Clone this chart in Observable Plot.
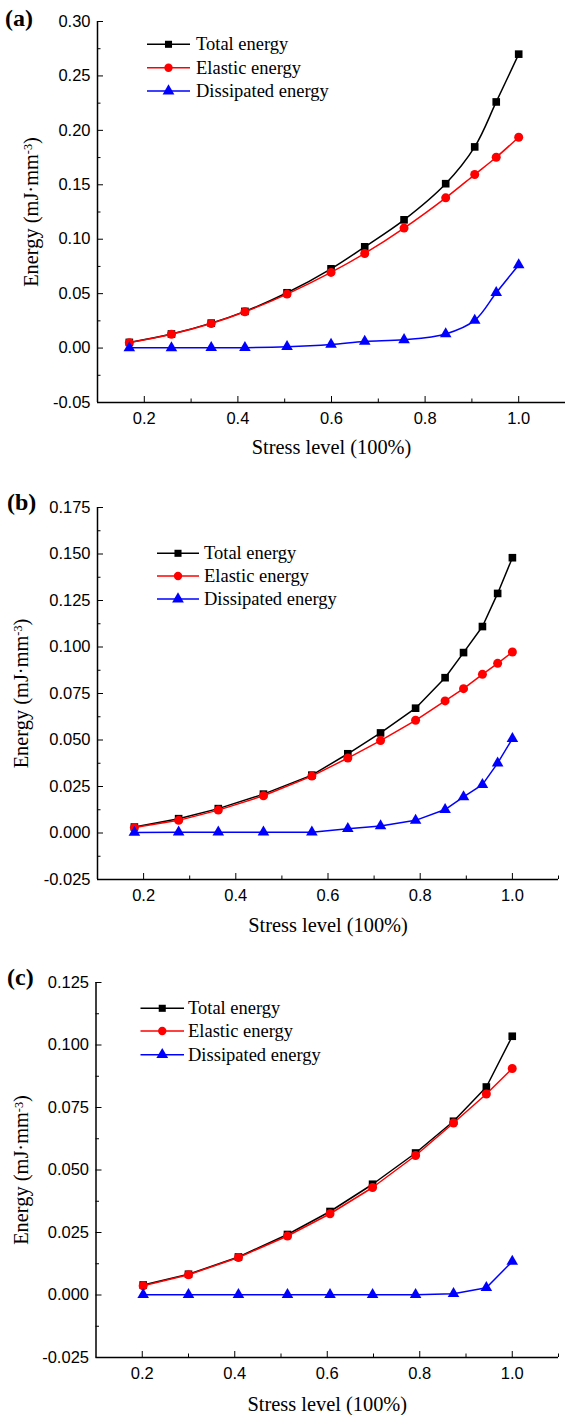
<!DOCTYPE html>
<html>
<head>
<meta charset="utf-8">
<script src="https://cdn.jsdelivr.net/npm/d3@7"></script>
<script src="https://cdn.jsdelivr.net/npm/@observablehq/plot@0.6"></script>
<style>
  body { margin: 0; background: #fff; width: 565px; }
  #chart svg { display: block; }
</style>
</head>
<body>
<div id="chart"></div>
<script>
// ---- Data: stress level (fraction of peak) and energy densities (mJ·mm⁻³) ----
const seriesNames = ["Total energy", "Elastic energy", "Dissipated energy"];

// (a)
const stressA     = [0.168, 0.258, 0.343, 0.415, 0.505, 0.599, 0.671, 0.755, 0.844, 0.906, 0.952, 1.000];
const totalA      = [0.0052, 0.0129, 0.0229, 0.0337, 0.0508, 0.0728, 0.0930, 0.1178, 0.1510, 0.1848, 0.2261, 0.2700];
const elasticA    = [0.0050, 0.0127, 0.0225, 0.0333, 0.0496, 0.0695, 0.0869, 0.1102, 0.1380, 0.1594, 0.1753, 0.1937];
const dissipatedA = [0.0002, 0.0002, 0.0004, 0.0004, 0.0012, 0.0033, 0.0061, 0.0076, 0.0130, 0.0254, 0.0508, 0.0763];

// (b)
const stressB     = [0.180, 0.276, 0.362, 0.460, 0.565, 0.643, 0.714, 0.790, 0.854, 0.894, 0.935, 0.968, 1.000];
const totalB      = [0.0032, 0.0077, 0.0131, 0.0209, 0.0311, 0.0426, 0.0538, 0.0671, 0.0835, 0.0970, 0.1110, 0.1288, 0.1480];
const elasticB    = [0.0029, 0.0068, 0.0123, 0.0200, 0.0306, 0.0403, 0.0497, 0.0606, 0.0710, 0.0776, 0.0853, 0.0912, 0.0973];
const dissipatedB = [0.0003, 0.0004, 0.0004, 0.0004, 0.0004, 0.0023, 0.0038, 0.0068, 0.0126, 0.0194, 0.0260, 0.0376, 0.0507];

// (c)
const stressC     = [0.202, 0.300, 0.408, 0.514, 0.606, 0.698, 0.791, 0.873, 0.944, 1.000];
const totalC      = [0.0040, 0.0083, 0.0152, 0.0242, 0.0334, 0.0443, 0.0568, 0.0695, 0.0832, 0.1035];
const elasticC    = [0.0037, 0.0081, 0.0150, 0.0236, 0.0325, 0.0430, 0.0558, 0.0688, 0.0804, 0.0906];
const dissipatedC = [0.0001, 0.0001, 0.0001, 0.0001, 0.0001, 0.0001, 0.0001, 0.0005, 0.0029, 0.0134];

// Axis domains and ticks
const xDomain = [0.1, 1.1];
const xMajor  = [0.2, 0.4, 0.6, 0.8, 1.0];
const xMinor  = [0.3, 0.5, 0.7, 0.9, 1.1];

const yDomainA = [-0.05, 0.30];
const yMajorA  = [-0.05, 0.00, 0.05, 0.10, 0.15, 0.20, 0.25, 0.30];
const yMinorA  = [-0.025, 0.025, 0.075, 0.125, 0.175, 0.225, 0.275];

const yDomainB = [-0.025, 0.175];
const yMajorB  = [-0.025, 0.000, 0.025, 0.050, 0.075, 0.100, 0.125, 0.150, 0.175];
const yMinorB  = [-0.0125, 0.0125, 0.0375, 0.0625, 0.0875, 0.1125, 0.1375, 0.1625];

const yDomainC = [-0.025, 0.125];
const yMajorC  = [-0.025, 0.000, 0.025, 0.050, 0.075, 0.100, 0.125];
const yMinorC  = [-0.0125, 0.0125, 0.0375, 0.0625, 0.0875, 0.1125];

const xTitle = "Stress level (100%)";
const yTitle = "Energy (mJ·mm-3)";

// ---- Styling ----
const SANS  = "'Liberation Sans', Arial, Helvetica, sans-serif";
const SERIF = "'Liberation Serif', 'Times New Roman', Times, serif";
const seriesStyle = [
  {color: "#000000", symbol: "square",   r: 4.3, legendSize: 50},
  {color: "#ff0000", symbol: "circle",   r: 4.5, legendSize: 55},
  {color: "#0000ff", symbol: "triangle", r: 4.3, legendSize: 60}
];
const d3Symbols = {square: d3.symbolSquare, circle: d3.symbolCircle, triangle: d3.symbolTriangle};

function energyPanel(cfg) {
  const rows = cfg.values.map((vals, k) =>
    vals.map((v, i) => ({stress: cfg.stress[i], energy: v, series: seriesNames[k]})));

  const marks = [
    // axis lines
    Plot.ruleX([xDomain[0]], {stroke: "#000", strokeWidth: 1.5}),
    Plot.ruleY([cfg.yDomain[0]], {stroke: "#000", strokeWidth: 1.5}),
    // inward ticks, labelled majors and unlabelled minors
    Plot.axisX(xMajor, {tickSize: -6, tickPadding: 15.6, tickFormat: d => d.toFixed(1),
      fontSize: 16.5, fontFamily: SANS, label: null}),
    Plot.axisX(xMinor, {tickSize: -3.5, fill: "none", label: null}),
    Plot.axisY(cfg.yMajor, {tickSize: -6, tickPadding: 13, tickFormat: cfg.yFormat,
      fontSize: 16.5, fontFamily: SANS, label: null}),
    Plot.axisY(cfg.yMinor, {tickSize: -3.5, fill: "none", label: null}),
    // axis titles
    Plot.text([xTitle], {frameAnchor: "bottom", dy: cfg.xTitleDy, lineAnchor: "bottom",
      fontSize: 20.4, fontFamily: SERIF, fill: "#000"}),
    Plot.text([yTitle], {frameAnchor: "left", rotate: -90, dx: cfg.yTitleDx, lineAnchor: "bottom",
      textAnchor: "middle", fontSize: 20.4, fontFamily: SERIF, fill: "#000"})
  ];

  rows.forEach((data, k) => {
    const s = seriesStyle[k];
    marks.push(Plot.line(data, {x: "stress", y: "energy", stroke: s.color, strokeWidth: 1.5, curve: cfg.curve}));
    marks.push(Plot.dot(data, {x: "stress", y: "energy", symbol: s.symbol, r: s.r, fill: s.color, stroke: "none"}));
  });

  const svg = Plot.plot({
    width: 565,
    height: cfg.height,
    marginTop: cfg.margin.top,
    marginRight: cfg.margin.right,
    marginBottom: cfg.margin.bottom,
    marginLeft: cfg.margin.left,
    x: {domain: xDomain},
    y: {domain: cfg.yDomain},
    style: {background: "#fff", color: "#000", overflow: "visible"},
    marks
  });

  const root = d3.select(svg);

  // superscript exponent in the y title
  root.selectAll("text").filter(function () { return this.textContent === yTitle; })
    .each(function () {
      const t = d3.select(this);
      t.text(null);
      t.append("tspan").text("Energy (mJ·mm");
      t.append("tspan").attr("dy", "-0.45em").attr("font-size", "0.6em").text("-3");
      t.append("tspan").attr("dy", "0.27em").text(")");
    });

  // panel letter
  root.append("text")
    .attr("x", cfg.tag.x).attr("y", cfg.tag.y)
    .attr("text-anchor", "start")
    .attr("font-family", SERIF).attr("font-weight", "bold").attr("font-size", 24)
    .attr("fill", "#000")
    .text(cfg.tag.text);

  // legend
  const lg = root.append("g").attr("class", "legend").attr("text-anchor", "start");
  seriesNames.forEach((name, k) => {
    const s = seriesStyle[k];
    const y = cfg.legend.rows[k];
    lg.append("line")
      .attr("x1", cfg.legend.x1).attr("x2", cfg.legend.x2)
      .attr("y1", y).attr("y2", y)
      .attr("stroke", s.color).attr("stroke-width", 1.5);
    lg.append("path")
      .attr("d", d3.symbol(d3Symbols[s.symbol], s.legendSize)())
      .attr("transform", `translate(${(cfg.legend.x1 + cfg.legend.x2) / 2},${y})`)
      .attr("fill", s.color);
    lg.append("text")
      .attr("x", cfg.legend.textX).attr("y", y + 6)
      .attr("text-anchor", "start")
      .attr("font-family", SERIF).attr("font-size", 18.5).attr("fill", "#000")
      .text(name);
  });

  return svg;
}

const chart = document.getElementById("chart");

chart.appendChild(energyPanel({
  stress: stressA, values: [totalA, elasticA, dissipatedA],
  yDomain: yDomainA, yMajor: yMajorA, yMinor: yMinorA, yFormat: d => d.toFixed(2),
  height: 470, margin: {top: 21, right: 0, bottom: 68, left: 97},
  curve: "catmull-rom", xTitleDy: 51.5, yTitleDx: -60,
  tag: {text: "(a)", x: 5, y: 26},
  legend: {x1: 147, x2: 190, textX: 196, rows: [44.3, 67.7, 91]}
}));

chart.appendChild(energyPanel({
  stress: stressB, values: [totalB, elasticB, dissipatedB],
  yDomain: yDomainB, yMajor: yMajorB, yMinor: yMinorB, yFormat: d => d.toFixed(3),
  height: 470, margin: {top: 37, right: 7, bottom: 61, left: 97},
  curve: "linear", xTitleDy: 52.5, yTitleDx: -70,
  tag: {text: "(b)", x: 7, y: 40},
  legend: {x1: 157, x2: 199, textX: 204, rows: [83.3, 106, 129]}
}));

chart.appendChild(energyPanel({
  stress: stressC, values: [totalC, elasticC, dissipatedC],
  yDomain: yDomainC, yMajor: yMajorC, yMinor: yMinorC, yFormat: d => d.toFixed(3),
  height: 475, margin: {top: 42, right: 7, bottom: 58, left: 95.5},
  curve: "linear", xTitleDy: 53.5, yTitleDx: -68,
  tag: {text: "(c)", x: 7, y: 45},
  legend: {x1: 140.5, x2: 184, textX: 188, rows: [68.3, 91, 114.7]}
}));
</script>
</body>
</html>
